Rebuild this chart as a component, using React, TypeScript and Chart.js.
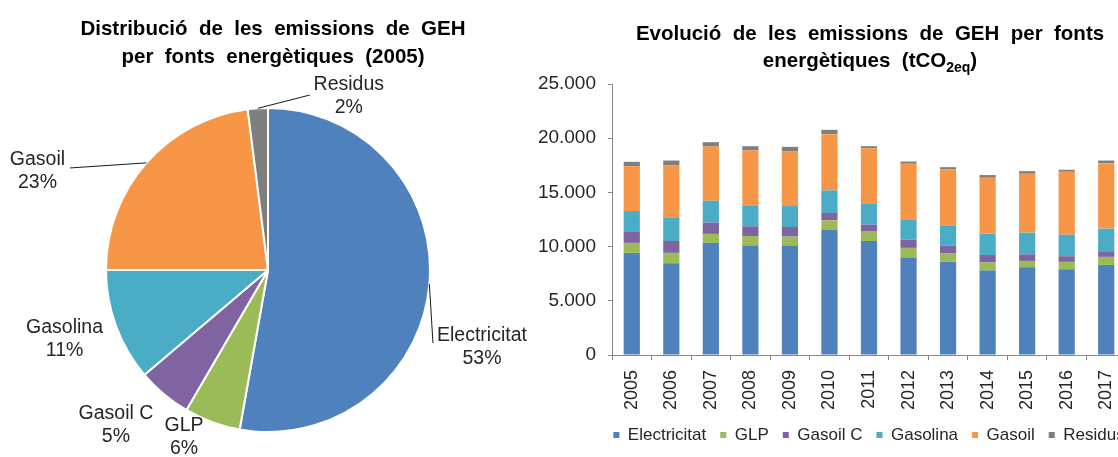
import React, { useEffect, useRef } from "react";
import { Chart, registerables } from "chart.js";

Chart.register(...registerables);

const FONT = "'Liberation Sans', Arial, Helvetica, sans-serif";
const TEXT = "#262626";
const AXIS = "#868686";

// ---------- data ----------
const years = ["2005", "2006", "2007", "2008", "2009", "2010", "2011", "2012", "2013", "2014", "2015", "2016", "2017"];
const electricitat = [9420, 8470, 10340, 10090, 10090, 11530, 10520, 8960, 8590, 7790, 8100, 7910, 8310];
const glp = [920, 950, 830, 890, 830, 890, 920, 920, 770, 740, 580, 680, 740];
const gasoilC = [1010, 1100, 1040, 890, 890, 680, 580, 760, 730, 700, 610, 520, 520];
const gasolina = [1930, 2120, 2020, 1930, 1930, 2080, 1940, 1880, 1870, 1970, 2000, 1990, 2090];
const gasoil = [4140, 4840, 5000, 5070, 5030, 5190, 5120, 5120, 5160, 5150, 5430, 5800, 6040];
const residus = [400, 460, 400, 390, 430, 400, 180, 210, 210, 250, 240, 190, 240];

const seriesNames = ["Electricitat", "GLP", "Gasoil C", "Gasolina", "Gasoil", "Residus"];
const seriesColors = ["#4F81BD", "#9BBB59", "#8064A2", "#4BACC6", "#F79646", "#7F7F7F"];

const pieShares = [52.8, 5.6, 5.4, 11.2, 23.0, 2.0];

const yTicks = [0, 5000, 10000, 15000, 20000, 25000];

const pieTitle = [
  [{ text: "Distribució  de  les  emissions  de  GEH" }],
  [{ text: "per  fonts  energètiques  (2005)" }],
];
const barTitle = [
  [{ text: "Evolució  de  les  emissions  de  GEH  per  fonts" }],
  [{ text: "energètiques  (tCO" }, { text: "2eq", sub: true }, { text: ")" }],
];

// ---------- helpers ----------
const fmt = (v: number) => String(Math.round(v)).replace(/\B(?=(\d{3})+(?!\d))/g, ".");

type Seg = { text: string; sub?: boolean };

const richTitle = {
  id: "richTitle",
  afterDraw(chart: any, _args: any, opts: any) {
    if (!opts || !opts.lines) return;
    const ctx = chart.ctx as CanvasRenderingContext2D;
    ctx.save();
    ctx.fillStyle = opts.color || TEXT;
    ctx.textBaseline = "alphabetic";
    ctx.textAlign = "left";
    opts.lines.forEach((line: Seg[], i: number) => {
      const widths = line.map((s) => {
        ctx.font = s.sub ? opts.subFont : opts.font;
        return ctx.measureText(s.text).width;
      });
      const total = widths.reduce((a, b) => a + b, 0);
      let x = opts.x - total / 2;
      const y = opts.baselines[i];
      line.forEach((s, j) => {
        ctx.font = s.sub ? opts.subFont : opts.font;
        ctx.fillText(s.text, x, s.sub ? y + opts.subShift : y);
        x += widths[j];
      });
    });
    ctx.restore();
  },
};

const pieLabels = {
  id: "pieLabels",
  afterDatasetsDraw(chart: any, _args: any, opts: any) {
    const meta = chart.getDatasetMeta(0);
    const ctx = chart.ctx as CanvasRenderingContext2D;
    const data = chart.data.datasets[0].data as number[];
    const total = data.reduce((a, b) => a + b, 0);
    ctx.save();
    ctx.font = opts.font;
    ctx.fillStyle = opts.color;
    ctx.strokeStyle = opts.lineColor;
    ctx.lineWidth = 1;
    ctx.textAlign = "center";
    ctx.textBaseline = "middle";
    meta.data.forEach((arc: any, i: number) => {
      const p = arc.getProps(["x", "y", "startAngle", "endAngle", "outerRadius"], true);
      const mid = (p.startAngle + p.endAngle) / 2;
      const ax = p.x + Math.cos(mid) * p.outerRadius;
      const ay = p.y + Math.sin(mid) * p.outerRadius;
      const place = opts.placements[i];
      const cx = ax + place.dx;
      const cy = ay + place.dy;
      if (place.leader) {
        ctx.beginPath();
        ctx.moveTo(ax, ay);
        ctx.lineTo(cx + place.leader[0], cy + place.leader[1]);
        ctx.stroke();
      }
      const pct = Math.round((data[i] / total) * 100) + "%";
      ctx.fillText(chart.data.labels[i], cx, cy - opts.lineGap / 2);
      ctx.fillText(pct, cx, cy + opts.lineGap / 2);
    });
    ctx.restore();
  },
};

// layout constants
const PIE_W = 536;
const H = 457;
const BAR_LEFT = 518;
const BAR_W = 702;
const AXIS_W = 94;

export default function App() {
  const pieRef = useRef<HTMLCanvasElement>(null);
  const barRef = useRef<HTMLCanvasElement>(null);

  useEffect(() => {
    Chart.defaults.font.family = FONT;
    Chart.defaults.color = TEXT;

    const pie = new Chart(pieRef.current as HTMLCanvasElement, {
      type: "pie",
      data: {
        labels: seriesNames,
        datasets: [
          {
            data: pieShares,
            backgroundColor: seriesColors,
            borderColor: "#ffffff",
            borderWidth: 2,
            radius: 162,
          } as any,
        ],
      },
      options: {
        responsive: false,
        animation: false,
        layout: { padding: { top: 90, bottom: 7, left: 0, right: 0 } },
        plugins: {
          legend: { display: false },
          tooltip: { enabled: false },
          title: { display: false },
          richTitle: {
            lines: pieTitle,
            x: 273,
            baselines: [35, 63],
            font: `bold 20.5px ${FONT}`,
            subFont: `bold 14px ${FONT}`,
            subShift: 5,
            color: "#000000",
          },
          pieLabels: {
            font: `19.5px ${FONT}`,
            color: TEXT,
            lineColor: "#1a1a1a",
            lineGap: 23,
            placements: [
              { dx: 52.6, dy: 63.3, leader: [-49, -4.5] },
              { dx: -28.2, dy: 15.4 },
              { dx: -48, dy: 30.8 },
              { dx: -51.4, dy: 13.2 },
              { dx: -109, dy: 8.6, leader: [32.5, -3.5] },
              { dx: 91, dy: -12.3, leader: [-39, -1] },
            ],
          },
        } as any,
      },
      plugins: [richTitle, pieLabels],
    });

    const datasets = [electricitat, glp, gasoilC, gasolina, gasoil, residus].map((d, i) => ({
      label: seriesNames[i],
      data: d,
      backgroundColor: seriesColors[i],
      borderWidth: 0,
      barPercentage: 0.41,
      categoryPercentage: 1,
      yAxisID: "y",
    }));

    const bar = new Chart(barRef.current as HTMLCanvasElement, {
      type: "bar",
      data: { labels: years, datasets },
      options: {
        responsive: false,
        animation: false,
        layout: { padding: { top: 84, bottom: 3.5, left: 0, right: 0 } },
        plugins: {
          tooltip: { enabled: false },
          title: { display: false },
          legend: {
            display: true,
            position: "bottom",
            labels: {
              boxWidth: 6,
              boxHeight: 6,
              padding: 14,
              font: { size: 17, family: FONT },
              color: TEXT,
            },
          },
          richTitle: {
            lines: barTitle,
            x: 870 - BAR_LEFT,
            baselines: [40, 67],
            font: `bold 20.5px ${FONT}`,
            subFont: `bold 14px ${FONT}`,
            subShift: 5,
            color: "#000000",
          },
        } as any,
        scales: {
          x: {
            stacked: true,
            offset: true,
            grid: {
              offset: true,
              drawOnChartArea: false,
              drawTicks: true,
              tickLength: 5,
              color: AXIS,
            },
            border: { display: true, color: AXIS, width: 1 },
            ticks: {
              autoSkip: false,
              maxRotation: 90,
              minRotation: 90,
              padding: 10,
              font: { size: 18, family: FONT },
              color: TEXT,
            },
            afterFit: (s: any) => {
              s.height = 57.5;
            },
          },
          y: {
            stacked: true,
            min: 0,
            max: 25000,
            afterBuildTicks: (s: any) => {
              s.ticks = yTicks.map((v) => ({ value: v }));
            },
            ticks: {
              padding: 12,
              font: { size: 19, family: FONT },
              color: TEXT,
              callback: (v: any) => fmt(Number(v)),
            },
            grid: { drawOnChartArea: false, drawTicks: true, tickLength: 4, color: AXIS },
            border: { display: true, color: AXIS, width: 1 },
            afterFit: (s: any) => {
              s.width = AXIS_W;
            },
          },
          yRight: {
            type: "linear",
            position: "right",
            display: true,
            grid: { display: false, drawTicks: false },
            border: { display: false },
            ticks: { display: false },
            afterFit: (s: any) => {
              s.width = AXIS_W;
            },
          },
        } as any,
      },
      plugins: [richTitle],
    });

    return () => {
      pie.destroy();
      bar.destroy();
    };
  }, []);

  return (
    <div
      style={{
        position: "absolute",
        left: 0,
        top: 0,
        width: 1118,
        height: H,
        overflow: "hidden",
        background: "#ffffff",
      }}
    >
      <canvas
        ref={pieRef}
        width={PIE_W}
        height={H}
        style={{ position: "absolute", left: 0, top: 0, width: PIE_W, height: H }}
      />
      <canvas
        ref={barRef}
        width={BAR_W}
        height={H}
        style={{ position: "absolute", left: BAR_LEFT, top: 0, width: BAR_W, height: H }}
      />
    </div>
  );
}
